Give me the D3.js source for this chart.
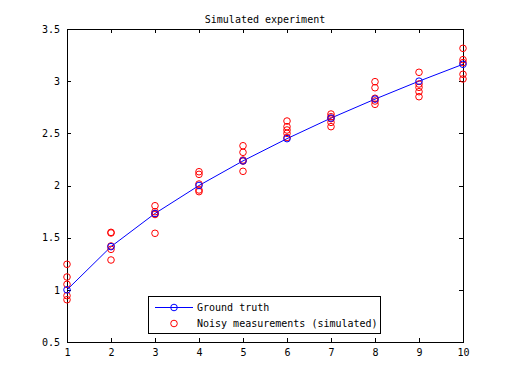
<!DOCTYPE html>
<html lang="en">
	<head>
		<meta charset="utf-8">
		<title>Simulated experiment</title>
		<script type="text/javascript" src="https://cdn.jsdelivr.net/npm/d3@7"></script>
		<style type="text/css">
			body{
				margin:0;
				background:#ffffff;
			}
			text{
				font-family: "DejaVu Sans Mono", monospace;
				font-size: 10px;
				fill: #000000;
			}
			.axis path, .axis line{
				stroke:#000000;
				stroke-width:1px;
				shape-rendering:crispEdges;
			}
		</style>
	</head>
	<body>
		<div id="chart"></div>
		<script type="text/javascript">

			// data
			var xValues = [1, 2, 3, 4, 5, 6, 7, 8, 9, 10]
			var groundTruth = [1.0, 1.414, 1.732, 2.0, 2.236, 2.449, 2.646, 2.828, 3.0, 3.162]
			var noisy = [
				[1.245, 1.123, 1.053, 0.944, 0.905],
				[1.551, 1.545, 1.420, 1.388, 1.286],
				[1.806, 1.749, 1.730, 1.722, 1.542],
				[2.132, 2.107, 2.014, 1.957, 1.941],
				[2.381, 2.318, 2.244, 2.234, 2.136],
				[2.618, 2.564, 2.532, 2.500, 2.460],
				[2.685, 2.659, 2.640, 2.605, 2.564],
				[2.995, 2.937, 2.836, 2.810, 2.778],
				[3.085, 2.973, 2.941, 2.899, 2.851],
				[3.315, 3.206, 3.178, 3.066, 3.021]
			]
			var xTicks = [1, 2, 3, 4, 5, 6, 7, 8, 9, 10]
			var yTicks = [0.5, 1, 1.5, 2, 2.5, 3, 3.5]
			var legendLabels = ["Ground truth", "Noisy measurements (simulated)"]

			var w = 512;
			var h = 384;
			var padL = 67, padR = 463, padT = 29, padB = 342;

			var svg = d3.select("#chart")
				.append("svg")
				.attr("width", w)
				.attr("height", h);

			var xScale = d3.scaleLinear().domain([1, 10]).range([padL, padR]);
			var yScale = d3.scaleLinear().domain([0.5, 3.5]).range([padB, padT]);

			// axes, ticks inside like matlab
			svg.append("g").attr("class","axis")
				.attr("transform","translate(0," + padB + ")")
				.call(d3.axisBottom(xScale).tickValues(xTicks).tickSizeInner(-4).tickSizeOuter(0).tickPadding(7).tickFormat(d3.format("d")));
			svg.append("g").attr("class","axis")
				.attr("transform","translate(0," + padT + ")")
				.call(d3.axisTop(xScale).tickValues(xTicks).tickSizeInner(-4).tickSizeOuter(0).tickFormat(""));
			svg.append("g").attr("class","axis")
				.attr("transform","translate(" + padL + ",0)")
				.call(d3.axisLeft(yScale).tickValues(yTicks).tickSizeInner(-4).tickSizeOuter(0).tickPadding(7).tickFormat(d3.format("")));
			svg.append("g").attr("class","axis")
				.attr("transform","translate(" + padR + ",0)")
				.call(d3.axisRight(yScale).tickValues(yTicks).tickSizeInner(-4).tickSizeOuter(0).tickFormat(""));
			svg.selectAll(".axis text").attr("font-size","10px").attr("font-family","DejaVu Sans Mono");

			svg.append("text")
				.text("Simulated experiment")
				.attr("x", (padL + padR) / 2)
				.attr("y", 23)
				.attr("text-anchor","middle");

			// ground truth line
			var line = d3.line()
				.x(function(d,i){ return xScale(xValues[i]) })
				.y(function(d){ return yScale(d) });

			svg.append("path")
				.datum(groundTruth)
				.attr("d", line)
				.attr("fill","none")
				.attr("stroke","#0000ff")
				.attr("stroke-width",1);

			// noisy measurements
			var points = []
			for(var n in noisy){
				for(var k in noisy[n]){
					points.push({x: xValues[n], y: noisy[n][k]})
				}
			}
			svg.selectAll(".meas")
				.data(points)
				.enter()
				.append("circle")
				.attr("class","meas")
				.attr("cx", function(d){ return xScale(d.x) })
				.attr("cy", function(d){ return yScale(d.y) })
				.attr("r", 3.3)
				.attr("fill","none")
				.attr("stroke","#ff0000")
				.attr("stroke-width",1);

			svg.selectAll(".truth")
				.data(groundTruth)
				.enter()
				.append("circle")
				.attr("class","truth")
				.attr("cx", function(d,i){ return xScale(xValues[i]) })
				.attr("cy", function(d){ return yScale(d) })
				.attr("r", 3.3)
				.attr("fill","none")
				.attr("stroke","#0000ff")
				.attr("stroke-width",1);

			// legend
			var lg = svg.append("g");
			lg.append("rect")
				.attr("x",148.5).attr("y",296.5)
				.attr("width",232).attr("height",37)
				.attr("fill","#ffffff")
				.attr("stroke","#000000")
				.attr("shape-rendering","crispEdges");
			lg.append("line")
				.attr("x1",155).attr("x2",193)
				.attr("y1",307.5).attr("y2",307.5)
				.attr("stroke","#0000ff");
			lg.append("circle")
				.attr("cx",174).attr("cy",307.5).attr("r",3.3)
				.attr("fill","none").attr("stroke","#0000ff");
			lg.append("circle")
				.attr("cx",174).attr("cy",323.5).attr("r",3.3)
				.attr("fill","none").attr("stroke","#ff0000");
			lg.selectAll(".lgtext")
				.data(legendLabels)
				.enter()
				.append("text")
				.attr("class","lgtext")
				.text(function(d){ return d })
				.attr("x",197)
				.attr("y",function(d,i){ return 311 + i*16 });

		</script>
	</body>
</html>
